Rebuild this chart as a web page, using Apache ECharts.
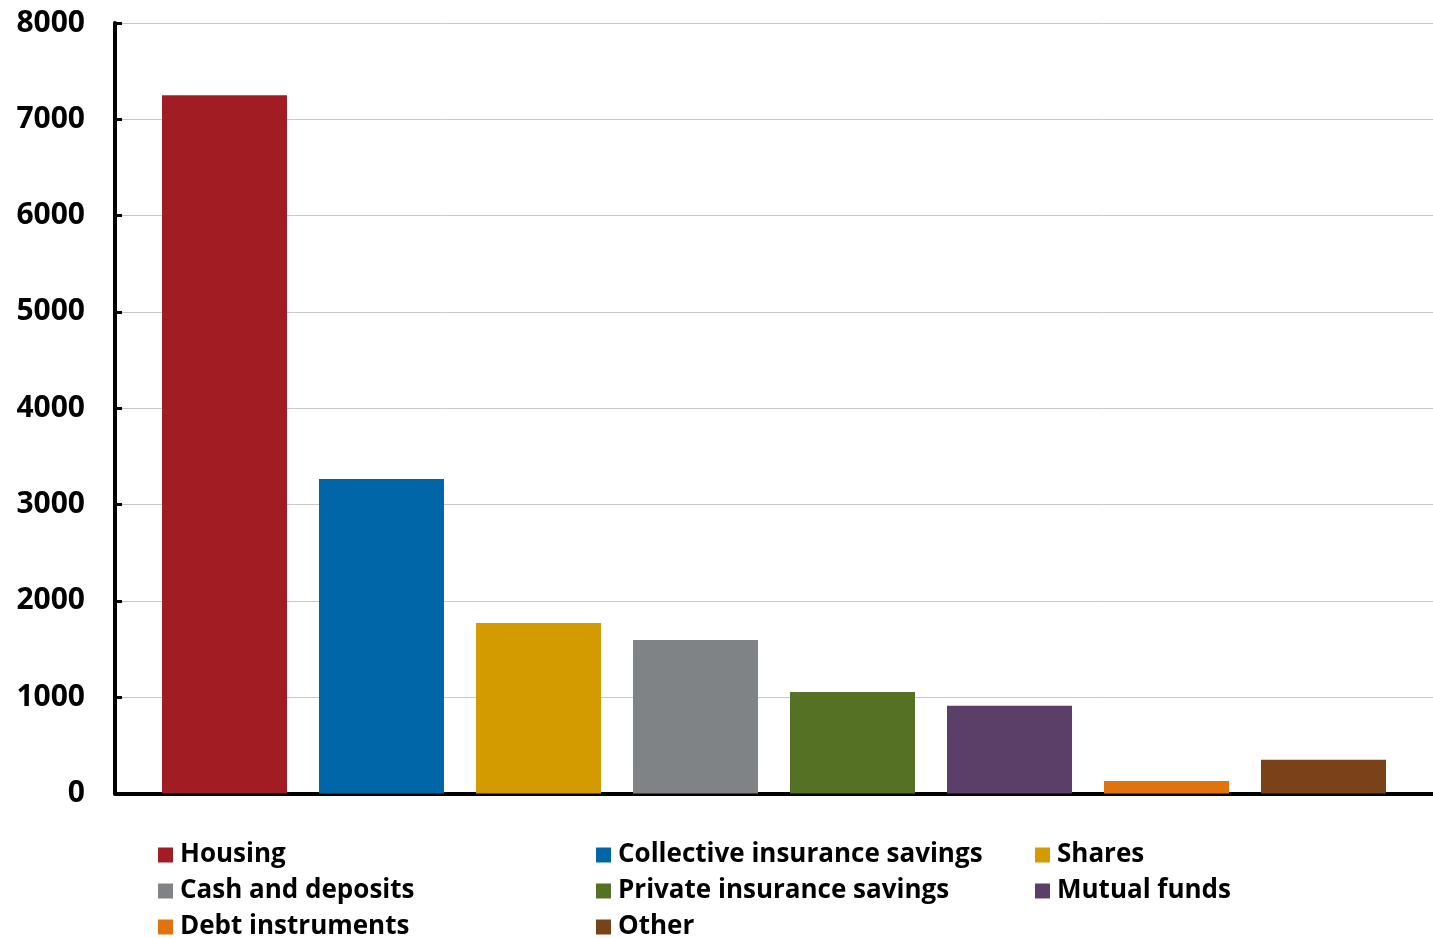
<!DOCTYPE html>
<html>
<head>
<meta charset="utf-8">
<script src="https://cdn.jsdelivr.net/npm/echarts@6/dist/echarts.min.js"></script>
<style>
  html, body { margin: 0; padding: 0; background: #fff; }
  #chart { width: 1433px; height: 938px; }
</style>
</head>
<body>
<div id="chart"></div>
<script>
// Household wealth by asset type
const categories = ['Housing', 'Collective insurance savings', 'Shares', 'Cash and deposits',
  'Private insurance savings', 'Mutual funds', 'Debt instruments', 'Other'];
const values = [7250, 3265, 1770, 1595, 1055, 910, 130, 350];
const colors = ['#A21C24', '#0066A8', '#D49B00', '#808386', '#557124', '#5C3F68', '#E0730E', '#7A4218'];
const yTicks = { min: 0, max: 8000, interval: 1000 };

const FONT = '"Open Sans", "Noto Sans", sans-serif';

const series = categories.map((name, i) => ({
  name: name,
  type: 'bar',
  data: [values[i]],
  barWidth: 125,
  barGap: '25.6%',
  itemStyle: { color: colors[i] },
  emphasis: { disabled: true }
}));

// legend laid out as three columns, filled row by row
const legendCol = (names, left) => ({
  orient: 'vertical',
  left: left,
  top: 840,
  height: 120,
  padding: 0,
  itemWidth: 15,
  itemHeight: 15,
  itemGap: 6,
  icon: 'rect',
  selectedMode: false,
  data: names,
  textStyle: { fontFamily: FONT, fontWeight: 'bold', fontSize: 26, color: '#000', lineHeight: 30, padding: [0, 0, 0, 2] }
});

const chart = echarts.init(document.getElementById('chart'), null, { renderer: 'canvas' });
chart.setOption({
  animation: false,
  backgroundColor: '#fff',
  grid: { left: 115, right: 0, top: 23, bottom: 144.5, containLabel: false },
  xAxis: {
    type: 'category',
    data: [''],
    axisLine: { show: true, lineStyle: { color: '#000', width: 4 } },
    axisTick: { show: false },
    axisLabel: { show: false }
  },
  yAxis: {
    type: 'value',
    min: yTicks.min,
    max: yTicks.max,
    interval: yTicks.interval,
    axisLine: { show: true, lineStyle: { color: '#000', width: 4 } },
    axisTick: { show: true, inside: true, length: 7, lineStyle: { color: '#000', width: 3 } },
    axisLabel: { margin: 30, fontFamily: FONT, fontWeight: 'bold', fontSize: 30, color: '#000',
      formatter: v => String(v) },
    splitLine: { show: true, lineStyle: { color: '#c8c8c8', width: 1 } }
  },
  legend: [
    legendCol([categories[0], categories[3], categories[6]], 158),
    legendCol([categories[1], categories[4], categories[7]], 596),
    legendCol([categories[2], categories[5]], 1035)
  ],
  series: series
});
</script>
</body>
</html>
